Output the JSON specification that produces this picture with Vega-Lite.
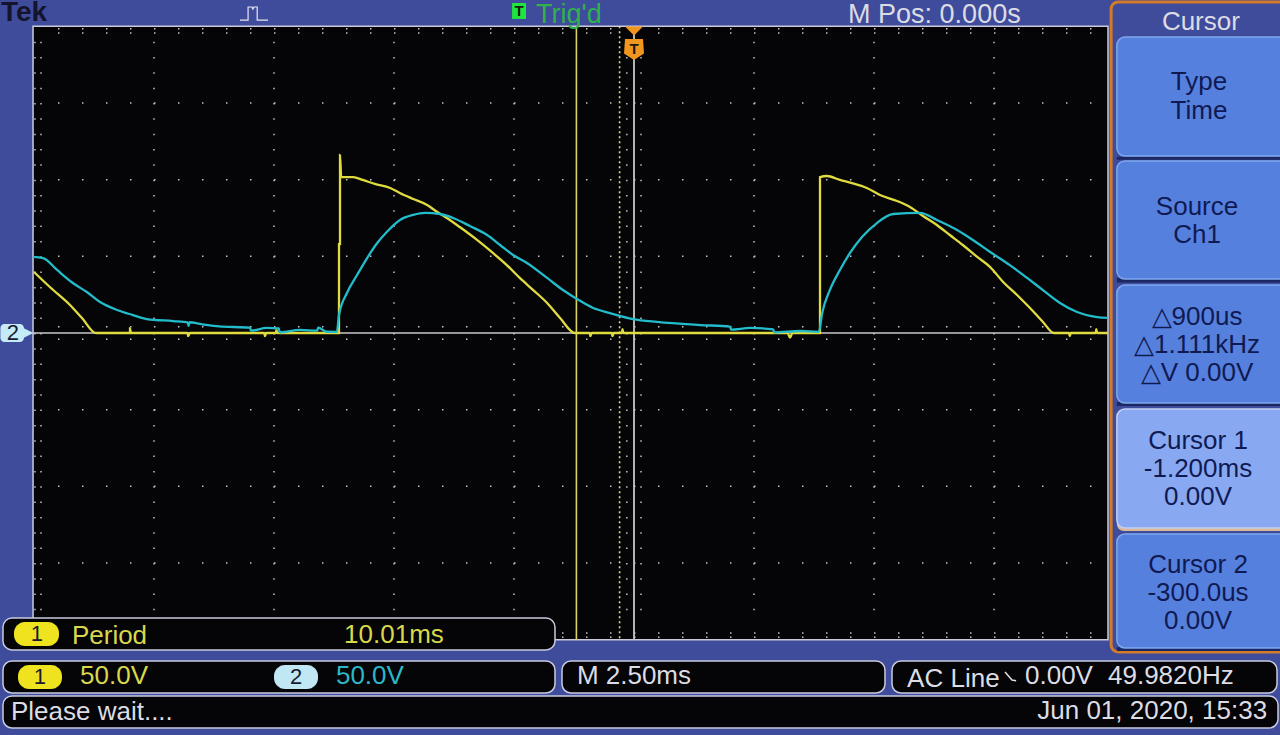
{
"$schema":"https://vega.github.io/schema/vega-lite/v6.json",
"width":1280,"height":735,"padding":0,
"autosize":{"type":"fit","contains":"padding"},
"background":"#3f4b9b",
"config":{"view":{"stroke":null},"text":{"font":"Liberation Sans"}},
"datasets":{
"screen":[{"t":-12.52,"t2":9.875,"v":200,"v2":-200}],
"gridRows":[{"t":-12,"t2":9.875,"v":198.5},{"t":-12,"t2":9.875,"v":195.6},{"t":-12,"t2":9.875,"v":150},{"t":-12,"t2":9.875,"v":100},{"t":-12,"t2":9.875,"v":50},{"t":-12,"t2":9.875,"v":4},{"t":-12,"t2":9.875,"v":-4},{"t":-12,"t2":9.875,"v":-50},{"t":-12,"t2":9.875,"v":-100},{"t":-12,"t2":9.875,"v":-150},{"t":-12,"t2":9.875,"v":-195.6},{"t":-12,"t2":9.875,"v":-198.5}],
"gridCols":[{"t":-12.48,"v":190,"v2":-190},{"t":-12.354,"v":190,"v2":-190},{"t":-10,"v":190,"v2":-190},{"t":-7.5,"v":190,"v2":-190},{"t":-5,"v":190,"v2":-190},{"t":-2.5,"v":190,"v2":-190},{"t":-0.15,"v":190,"v2":-190},{"t":0.146,"v":190,"v2":-190},{"t":2.5,"v":190,"v2":-190},{"t":5,"v":190,"v2":-190},{"t":7.5,"v":190,"v2":-190}],
"ch1":[{"t":-12.5,"v":39.8},{"t":-12.17,"v":30},{"t":-11.75,"v":18.3},{"t":-11.5,"v":9.8},{"t":-11.21,"v":0},{"t":-10.5,"v":0},{"t":-10.5,"v":3},{"t":-10.48,"v":0},{"t":-9.3,"v":0},{"t":-9.29,"v":-2},{"t":-9.25,"v":0},{"t":-7.7,"v":0},{"t":-7.69,"v":-2},{"t":-7.66,"v":0},{"t":-7.46,"v":0},{"t":-7.45,"v":2},{"t":-7.43,"v":0},{"t":-6.146,"v":0},{"t":-6.146,"v":58},{"t":-6.125,"v":58},{"t":-6.125,"v":116.1},{"t":-6.1,"v":101.7},{"t":-5.85,"v":101.7},{"t":-5.65,"v":99.8},{"t":-5.4,"v":97.2},{"t":-5.08,"v":94.6},{"t":-4.88,"v":91.3},{"t":-4.6,"v":87.4},{"t":-4.31,"v":83.5},{"t":-4.1,"v":78.9},{"t":-3.9,"v":75},{"t":-3.63,"v":69.1},{"t":-3.27,"v":60.7},{"t":-2.94,"v":52.2},{"t":-2.65,"v":44.3},{"t":-2.38,"v":35.9},{"t":-2.1,"v":28},{"t":-1.81,"v":19.6},{"t":-1.54,"v":9.8},{"t":-1.23,"v":0},{"t":-0.92,"v":0},{"t":-0.91,"v":-2},{"t":-0.88,"v":0},{"t":-0.46,"v":0},{"t":-0.45,"v":-2},{"t":-0.42,"v":0},{"t":-0.25,"v":0},{"t":-0.24,"v":2.5},{"t":-0.22,"v":0},{"t":3.2,"v":0},{"t":3.25,"v":-3},{"t":3.3,"v":0},{"t":3.875,"v":0},{"t":3.875,"v":101.7},{"t":4.02,"v":102.4},{"t":4.29,"v":99.8},{"t":4.54,"v":97.8},{"t":4.85,"v":94.6},{"t":5.125,"v":90},{"t":5.48,"v":86.1},{"t":5.75,"v":82.2},{"t":6.02,"v":76.3},{"t":6.31,"v":70.4},{"t":6.58,"v":63.9},{"t":6.85,"v":57.4},{"t":7.15,"v":49.6},{"t":7.42,"v":43},{"t":7.69,"v":33.3},{"t":7.98,"v":24.8},{"t":8.25,"v":16.3},{"t":8.52,"v":7.2},{"t":8.75,"v":0},{"t":9.06,"v":0},{"t":9.08,"v":-2},{"t":9.1,"v":0},{"t":9.62,"v":0},{"t":9.63,"v":2.5},{"t":9.65,"v":0},{"t":9.875,"v":0}],
"ch2":[{"t":-12.52,"v":49.6},{"t":-12.31,"v":48.9},{"t":-12.02,"v":41.1},{"t":-11.69,"v":32.6},{"t":-11.4,"v":26.7},{"t":-11.125,"v":20.2},{"t":-10.77,"v":15},{"t":-10.44,"v":11.7},{"t":-10.15,"v":9.1},{"t":-9.6,"v":7.8},{"t":-9.3,"v":7},{"t":-9.28,"v":4.5},{"t":-9.26,"v":7},{"t":-9.04,"v":5.9},{"t":-8.7,"v":4.5},{"t":-8.35,"v":3.9},{"t":-8.0,"v":3.5},{"t":-7.98,"v":1.5},{"t":-7.65,"v":3.3},{"t":-7.4,"v":3},{"t":-7.38,"v":0.5},{"t":-6.96,"v":2},{"t":-6.6,"v":1.5},{"t":-6.58,"v":3.5},{"t":-6.4,"v":0.8},{"t":-6.19,"v":0.7},{"t":-6.146,"v":11.7},{"t":-5.98,"v":26.1},{"t":-5.77,"v":37.8},{"t":-5.56,"v":48.9},{"t":-5.35,"v":58.7},{"t":-5.15,"v":65.9},{"t":-4.875,"v":73.7},{"t":-4.6,"v":77},{"t":-4.35,"v":78.3},{"t":-4.04,"v":77.6},{"t":-3.77,"v":75},{"t":-3.42,"v":69.8},{"t":-3.06,"v":63.9},{"t":-2.79,"v":57.4},{"t":-2.52,"v":50.9},{"t":-2.23,"v":45.7},{"t":-1.81,"v":35.9},{"t":-1.48,"v":28},{"t":-1.19,"v":22.2},{"t":-0.85,"v":16.3},{"t":-0.5,"v":13},{"t":-0.02,"v":9.1},{"t":0.48,"v":7.2},{"t":1.375,"v":5.2},{"t":2.0,"v":4.2},{"t":2.02,"v":2.2},{"t":2.42,"v":3.3},{"t":2.9,"v":2.4},{"t":2.92,"v":0.4},{"t":3.46,"v":1.3},{"t":3.85,"v":0.7},{"t":3.92,"v":13},{"t":4.08,"v":28},{"t":4.29,"v":41.1},{"t":4.5,"v":52.2},{"t":4.75,"v":62.6},{"t":5.06,"v":71.7},{"t":5.4,"v":77.6},{"t":5.96,"v":78.3},{"t":6.31,"v":73.7},{"t":6.73,"v":67.2},{"t":7.06,"v":60.7},{"t":7.42,"v":52.8},{"t":7.83,"v":44.3},{"t":8.19,"v":35.9},{"t":8.52,"v":28},{"t":8.875,"v":19.6},{"t":9.23,"v":13.7},{"t":9.65,"v":10.4},{"t":9.875,"v":9.8}],
"pulseIcon":[{"t":-8.21,"v":204.1},{"t":-8.04,"v":204.1},{"t":-8.04,"v":212.6},{"t":-7.96,"v":212.6},{"t":-7.94,"v":211.3},{"t":-7.92,"v":212.6},{"t":-7.85,"v":212.6},{"t":-7.85,"v":204.1},{"t":-7.625,"v":204.1}],
"slopeIcon":[{"t":7.73,"v":-221.1},{"t":7.875,"v":-226.3},{"t":7.96,"v":-226.8}],
"softkeyShadow":[{"t":10.06,"t2":13.875,"v":115,"v2":113},{"t":10.06,"t2":13.875,"v":36,"v2":33},{"t":10.06,"t2":13.875,"v":-45,"v2":-47.6},{"t":10.06,"t2":13.875,"v":-205,"v2":-207.4}],
"softkeys":[{"t":10.06,"t2":13.875,"v":193,"v2":115.4},{"t":10.06,"t2":13.875,"v":112.2,"v2":35.2},{"t":10.06,"t2":13.875,"v":31.3,"v2":-45.7},{"t":10.06,"t2":13.875,"v":-131.1,"v2":-205.4}],
"softkeySelected":[{"t":10.06,"t2":13.875,"v":-49.6,"v2":-127.2}],
"softkeySelectedEdge":[{"t":10.06,"t2":13.875,"v":-120,"v2":-129.1}],
"panel":[{"t":9.94,"t2":13.875,"v":215.9,"v2":-208}],
"boxes":[{"t":-13.146,"t2":-1.646,"v":-185.9,"v2":-206.7},{"t":-13.146,"t2":-1.646,"v":-213.9,"v2":-234.8},{"t":-1.5,"t2":5.229,"v":-213.9,"v2":-234.8},{"t":5.375,"t2":13.396,"v":-213.9,"v2":-234.8},{"t":-13.146,"t2":13.417,"v":-236.7,"v2":-257.6}],
"pills1":[{"t":-12.917,"t2":-11.979,"v":-188.5,"v2":-204.1},{"t":-12.833,"t2":-11.917,"v":-216.5,"v2":-232.2}],
"pills2":[{"t":-7.5,"t2":-6.583,"v":-216.5,"v2":-232.2}],
"trigBadge":[{"t":-2.54,"t2":-2.25,"v":215.2,"v2":204.8}],
"ch2Tag":[{"t":-13.2,"t2":-12.71,"v":5.9,"v2":-5.9}],
"ch2Arrow":[{"t":-12.7,"v":0}],
"trigShield":[{"t":0,"v":185.2}],
"trigArrow":[{"t":0,"v":197}],
"leftText":[
{"label":"Period","t":-11.71,"v":-197.6,"role":"ch1"},
{"label":"10.01ms","t":-6.04,"v":-197,"role":"ch1"},
{"label":"50.0V","t":-11.54,"v":-223.7,"role":"ch1"},
{"label":"50.0V","t":-6.21,"v":-223.7,"role":"ch2"},
{"label":"M 2.50ms","t":-1.19,"v":-223.7,"role":"ui"},
{"label":"AC Line","t":5.69,"v":-225.7,"role":"ui"},
{"label":"0.00V","t":8.146,"v":-223.7,"role":"ui"},
{"label":"49.9820Hz","t":9.875,"v":-223.7,"role":"ui"},
{"label":"Please wait....","t":-12.98,"v":-247.2,"role":"ui"}],
"topText":[
{"label":"Trig'd","t":-2.04,"v":207.5,"role":"trig"},
{"label":"M Pos: 0.000s","t":4.46,"v":207.3,"role":"ui"}],
"rightText":[{"label":"Jun 01, 2020, 15:33","t":13.19,"v":-246.5,"role":"ui"}],
"centerText":[
{"label":"Cursor","t":11.81,"v":202.8,"role":"ui"},
{"label":"Type","t":11.77,"v":163.4,"role":"softkey"},
{"label":"Time","t":11.77,"v":145,"role":"softkey"},
{"label":"Source","t":11.73,"v":82.2,"role":"softkey"},
{"label":"Ch1","t":11.73,"v":63.9,"role":"softkey"},
{"label":"△900us","t":11.73,"v":10.4,"role":"softkey"},
{"label":"△1.111kHz","t":11.73,"v":-7.8,"role":"softkey"},
{"label":"△V 0.00V","t":11.73,"v":-26.1,"role":"softkey"},
{"label":"Cursor 1","t":11.75,"v":-70.4,"role":"softkey"},
{"label":"-1.200ms","t":11.75,"v":-88.7,"role":"softkey"},
{"label":"0.00V","t":11.75,"v":-107,"role":"softkey"},
{"label":"Cursor 2","t":11.75,"v":-151.3,"role":"softkey"},
{"label":"-300.0us","t":11.75,"v":-169.6,"role":"softkey"},
{"label":"0.00V","t":11.75,"v":-187.8,"role":"softkey"}],
"badgeText":[
{"label":"1","t":-12.44,"v":-196.3},{"label":"1","t":-12.375,"v":-224.3},{"label":"2","t":-7.04,"v":-224.3},{"label":"2","t":-12.94,"v":0}],
"tekText":[{"label":"Tek","t":-13.19,"v":208.4}],
"tText":[{"label":"T","t":-2.395,"v":210},{"label":"T","t":0,"v":185.5}]
},
"encoding":{
"x":{"field":"t","type":"quantitative","axis":null,"scale":{"domain":[-13.2083,13.4583],"nice":false,"zero":false}},
"y":{"field":"v","type":"quantitative","axis":null,"scale":{"domain":[-262.17,217.17],"nice":false,"zero":false}}
},
"layer":[
{"data":{"name":"screen"},"mark":{"type":"rect","fill":"#050406","stroke":"#c9cbdc","strokeWidth":1.5},"encoding":{"x2":{"field":"t2"},"y2":{"field":"v2"}}},
{"data":{"name":"gridRows"},"mark":{"type":"rule","color":"#c4c4c4","strokeWidth":1.5,"strokeDash":[1.5,22.5]},"encoding":{"x2":{"field":"t2"}}},
{"data":{"name":"gridCols"},"mark":{"type":"rule","color":"#c4c4c4","strokeWidth":1.5,"strokeDash":[1.5,13.83]},"encoding":{"y2":{"field":"v2"}}},
{"data":{"values":[{"t":-12.52,"t2":9.875,"v":0}]},"mark":{"type":"rule","color":"#c8c8c8","strokeWidth":1.6},"encoding":{"x2":{"field":"t2"}}},
{"data":{"values":[{"t":-1.2,"v":200,"v2":-200}]},"mark":{"type":"rule","color":"#d9d268","strokeWidth":1.6},"encoding":{"y2":{"field":"v2"}}},
{"data":{"values":[{"t":-0.3,"v":200,"v2":-200}]},"mark":{"type":"rule","color":"#e0dc90","strokeWidth":1.6,"strokeDash":[2,3]},"encoding":{"y2":{"field":"v2"}}},
{"data":{"values":[{"t":0,"v":200,"v2":-200}]},"mark":{"type":"rule","color":"#c8c8c8","strokeWidth":1.8},"encoding":{"y2":{"field":"v2"}}},
{"data":{"name":"ch1"},"mark":{"type":"line","color":"#e0dc40","strokeWidth":2.3,"interpolate":"monotone"}},
{"data":{"name":"ch2"},"mark":{"type":"line","color":"#22bccb","strokeWidth":2.3,"interpolate":"monotone"}},
{"data":{"name":"pulseIcon"},"mark":{"type":"line","color":"#e8e8f0","strokeWidth":1.2}},
{"data":{"name":"panel"},"mark":{"type":"rect","clip":true,"fill":"#3f4b9b","stroke":"#d27c2a","strokeWidth":3,"cornerRadius":7},"encoding":{"x2":{"field":"t2"},"y2":{"field":"v2"}}},
{"data":{"name":"softkeyShadow"},"mark":{"type":"rect","clip":true,"fill":"#1b2762"},"encoding":{"x2":{"field":"t2"},"y2":{"field":"v2"}}},
{"data":{"name":"softkeySelectedEdge"},"mark":{"type":"rect","clip":true,"fill":"#d9b994","cornerRadius":8},"encoding":{"x2":{"field":"t2"},"y2":{"field":"v2"}}},
{"data":{"name":"softkeys"},"mark":{"type":"rect","clip":true,"fill":"#5680de","stroke":"#7fa9ee","strokeWidth":1.5,"cornerRadius":8},"encoding":{"x2":{"field":"t2"},"y2":{"field":"v2"}}},
{"data":{"name":"softkeySelected"},"mark":{"type":"rect","clip":true,"fill":"#88a8f2","stroke":"#c4d0f4","strokeWidth":1.5,"cornerRadius":8},"encoding":{"x2":{"field":"t2"},"y2":{"field":"v2"}}},
{"data":{"name":"boxes"},"mark":{"type":"rect","fill":"#050406","stroke":"#c9cbe0","strokeWidth":1.5,"cornerRadius":9},"encoding":{"x2":{"field":"t2"},"y2":{"field":"v2"}}},
{"data":{"name":"slopeIcon"},"mark":{"type":"line","color":"#e0e0e0","strokeWidth":1.5}},
{"data":{"name":"pills1"},"mark":{"type":"rect","fill":"#efe21e","cornerRadius":11},"encoding":{"x2":{"field":"t2"},"y2":{"field":"v2"}}},
{"data":{"name":"pills2"},"mark":{"type":"rect","fill":"#bfe8f4","cornerRadius":11},"encoding":{"x2":{"field":"t2"},"y2":{"field":"v2"}}},
{"data":{"name":"trigBadge"},"mark":{"type":"rect","fill":"#1fe63c"},"encoding":{"x2":{"field":"t2"},"y2":{"field":"v2"}}},
{"data":{"name":"ch2Tag"},"mark":{"type":"rect","clip":true,"fill":"#c4ecf8","cornerRadius":4},"encoding":{"x2":{"field":"t2"},"y2":{"field":"v2"}}},
{"data":{"name":"ch2Arrow"},"mark":{"type":"point","filled":true,"opacity":1,"color":"#c4ecf8","shape":"M-1,-1L1,0L-1,1Z","size":324}},
{"data":{"name":"trigShield"},"mark":{"type":"point","filled":true,"opacity":1,"color":"#f0961e","shape":"M-0.9,-1L0.9,-1L1,0.45L0,1.1L-1,0.45Z","size":400}},
{"data":{"name":"trigArrow"},"mark":{"type":"point","filled":true,"opacity":1,"color":"#f0961e","shape":"M-1,-0.5L1,-0.5L0,0.5Z","size":324}},
{"data":{"name":"leftText"},"mark":{"type":"text","clip":true,"align":"left","baseline":"middle","fontSize":26,"font":"Liberation Sans"},"encoding":{"text":{"field":"label"},"color":{"field":"role","legend":null,"scale":{"domain":["trig","ui","ch1","ch2","softkey"],"range":["#2fb24e","#dcdce4","#d8d84c","#2cb8c8","#101a52"]}}}},
{"data":{"name":"topText"},"mark":{"type":"text","clip":true,"align":"left","baseline":"middle","fontSize":27,"font":"Liberation Sans"},"encoding":{"text":{"field":"label"},"color":{"field":"role","legend":null,"scale":{"domain":["trig","ui","ch1","ch2","softkey"],"range":["#2fb24e","#dcdce4","#d8d84c","#2cb8c8","#101a52"]}}}},
{"data":{"name":"rightText"},"mark":{"type":"text","clip":true,"align":"right","baseline":"middle","fontSize":26,"font":"Liberation Sans"},"encoding":{"text":{"field":"label"},"color":{"field":"role","legend":null,"scale":{"domain":["trig","ui","ch1","ch2","softkey"],"range":["#2fb24e","#dcdce4","#d8d84c","#2cb8c8","#101a52"]}}}},
{"data":{"name":"centerText"},"mark":{"type":"text","clip":true,"align":"center","baseline":"middle","fontSize":26,"font":"Liberation Sans"},"encoding":{"text":{"field":"label"},"color":{"field":"role","legend":null,"scale":{"domain":["trig","ui","ch1","ch2","softkey"],"range":["#2fb24e","#dcdce4","#d8d84c","#2cb8c8","#101a52"]}}}},
{"data":{"name":"badgeText"},"mark":{"type":"text","align":"center","baseline":"middle","fontSize":22,"color":"#1a1a30","font":"Liberation Sans"},"encoding":{"text":{"field":"label"}}},
{"data":{"name":"tText"},"mark":{"type":"text","align":"center","baseline":"middle","fontSize":15,"fontWeight":"bold","color":"#1a1a10","font":"Liberation Sans"},"encoding":{"text":{"field":"label"}}},
{"data":{"name":"tekText"},"mark":{"type":"text","clip":true,"align":"left","baseline":"middle","fontSize":28,"fontWeight":"bold","color":"#14142c","font":"Liberation Sans"},"encoding":{"text":{"field":"label"}}}
]
}
